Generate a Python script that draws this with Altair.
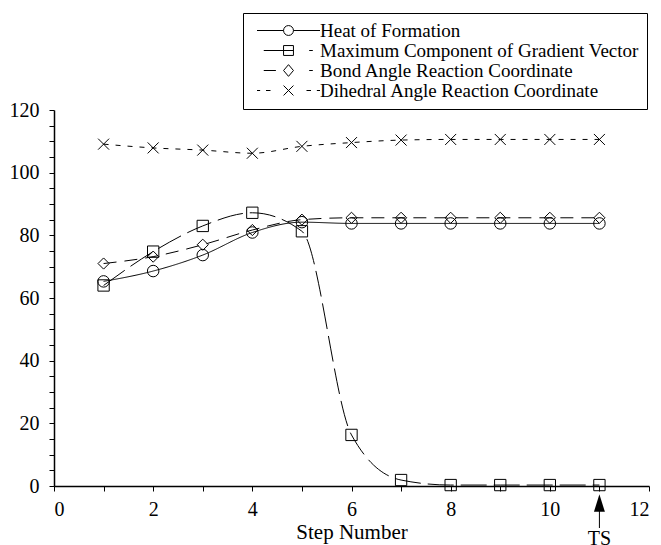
import altair as alt
import pandas as pd

# ---- data ----
steps = [1, 2, 3, 4, 5, 6, 7, 8, 9, 10, 11]
heat_of_formation = [65.3, 68.6, 73.7, 80.9, 84.2, 83.8, 83.8, 83.8, 83.8, 83.8, 83.8]
max_gradient = [64.0, 74.8, 83.0, 87.2, 81.3, 16.3, 1.9, 0.3, 0.3, 0.3, 0.3]
bond_angle = [71.0, 73.2, 77.0, 81.7, 85.0, 85.6, 85.6, 85.6, 85.6, 85.6, 85.6]
dihedral_angle = [109.1, 107.9, 107.2, 106.2, 108.4, 109.6, 110.4, 110.6, 110.6, 110.6, 110.6]

series_names = [
    "Heat of Formation",
    "Maximum Component of Gradient Vector",
    "Bond Angle Reaction Coordinate",
    "Dihedral Angle Reaction Coordinate",
]
x_ticks = [i / 2 for i in range(0, 25)]
y_ticks = list(range(0, 121, 5))
ts_step = [11]
ts_label = ["TS"]

rows = []
for name, vals in zip(series_names, [heat_of_formation, max_gradient, bond_angle, dihedral_angle]):
    for s, v in zip(steps, vals):
        rows.append({"step": s, "value": v, "series": name})
df = pd.DataFrame(rows)
ts_df = pd.DataFrame({"step": ts_step, "label": ts_label})

FONT = "Liberation Serif"
W, H = 595, 376

dashes = [[1, 0], [26, 7], [13, 8], [5, 7]]
X_PATH = "M-1,-1L1,1M-1,1L1,-1"
shapes = ["circle", "square", "diamond", X_PATH]
sizes = [132, 121, 105, 110]

legend_paths = [
    "M-7,0L-1.1,0M1.1,0L7,0M1.1,0A1.1,1.1,0,1,1,-1.1,0A1.1,1.1,0,1,1,1.1,0",
    "M-5.5,0L1.1,0M-1.1,-1.1L1.1,-1.1L1.1,1.1L-1.1,1.1ZM4.6,0L5.4,0",
    "M-5.5,0L-2.8,0M0,-1.3L1.1,0L0,1.3L-1.1,0ZM4.6,0L5.4,0",
    "M-7,0L-6.3,0M-5,0L-4,0M-1.1,-1.1L1.1,1.1M-1.1,1.1L1.1,-1.1M4,0L5,0M6.3,0L7,0",
]

xscale = alt.Scale(domain=[0, 12], nice=False, zero=False)
yscale = alt.Scale(domain=[0, 120], nice=False)

x_axis = alt.Axis(values=x_ticks, ticks=True, tickSize=5, tickColor="black", tickWidth=1,
                  grid=False, domainColor="black", domainWidth=1.5,
                  labelExpr="datum.value % 2 === 0 ? datum.label : ''",
                  labelFont=FONT, labelFontSize=20, labelColor="black",
                  labelPadding=8, labelBaseline="top", format="d",
                  title="Step Number", titleFont=FONT, titleFontSize=21, titleFontWeight="normal",
                  titleColor="black", titleY=52, titleBaseline="alphabetic")
y_axis = alt.Axis(values=y_ticks, ticks=True, tickSize=5, tickColor="black", tickWidth=1,
                  grid=False, domainColor="black", domainWidth=1.5,
                  labelExpr="datum.value % 20 === 0 ? datum.label : ''",
                  labelFont=FONT, labelFontSize=20, labelColor="black",
                  labelPadding=10, format="d", title=None)

lines = alt.Chart(df).mark_line(interpolate="monotone", color="black", strokeWidth=1).encode(
    x=alt.X("step:Q", scale=xscale, axis=x_axis),
    y=alt.Y("value:Q", scale=yscale, axis=y_axis),
    strokeDash=alt.StrokeDash("series:N", scale=alt.Scale(domain=series_names, range=dashes), legend=None),
)

XN = alt.X("step:Q", scale=xscale, axis=None)
YN = alt.Y("value:Q", scale=yscale, axis=None)

points = alt.Chart(df).mark_point(filled=False, color="black", strokeWidth=1, opacity=1).encode(
    x=XN, y=YN,
    shape=alt.Shape("series:N", scale=alt.Scale(domain=series_names, range=shapes), legend=None),
    size=alt.Size("series:N", scale=alt.Scale(domain=series_names, range=sizes), legend=None),
)

legend_layer = alt.Chart(df).transform_filter("false").mark_point(
    filled=False, color="black", strokeWidth=1, opacity=1, size=81
).encode(
    x=XN, y=YN,
    shape=alt.Shape(
        "series:N",
        scale=alt.Scale(domain=series_names, range=legend_paths),
        legend=alt.Legend(
            title=None, orient="none", legendX=189, legendY=-97,
            labelFont=FONT, labelFontSize=19, labelColor="black", labelLimit=500,
            padding=8, symbolOffset=28, labelOffset=22, rowPadding=0,
            symbolSize=81, symbolStrokeWidth=1, symbolStrokeColor="black",
            strokeColor="black", fillColor="white",
        ),
    ),
)

ts_text = alt.Chart(ts_df).mark_text(font=FONT, fontSize=20, color="black", baseline="middle").encode(
    x=XN, y=alt.value(429), text="label:N",
)
ts_head = alt.Chart(ts_df).mark_point(filled=True, color="black", opacity=1, size=313,
                                      shape="M0,-1L0.62,1L-0.62,1Z").encode(
    x=XN, y=alt.value(393),
)
ts_stem = alt.Chart(ts_df).mark_rule(color="black", strokeWidth=1).encode(
    x=XN, y=alt.value(400), y2=alt.value(418),
)

chart = alt.layer(
    lines, points, legend_layer, ts_stem, ts_head, ts_text,
).resolve_scale(
    shape="independent"
).resolve_axis(
    x="independent", y="independent"
).properties(
    width=W, height=H,
    autosize=alt.AutoSizeParams(type="none"),
    padding={"left": 54, "top": 110, "right": 12, "bottom": 59},
    background="white",
).configure_view(stroke=None)

chart.save("out.html", embed_options={"renderer": "svg", "actions": False})
